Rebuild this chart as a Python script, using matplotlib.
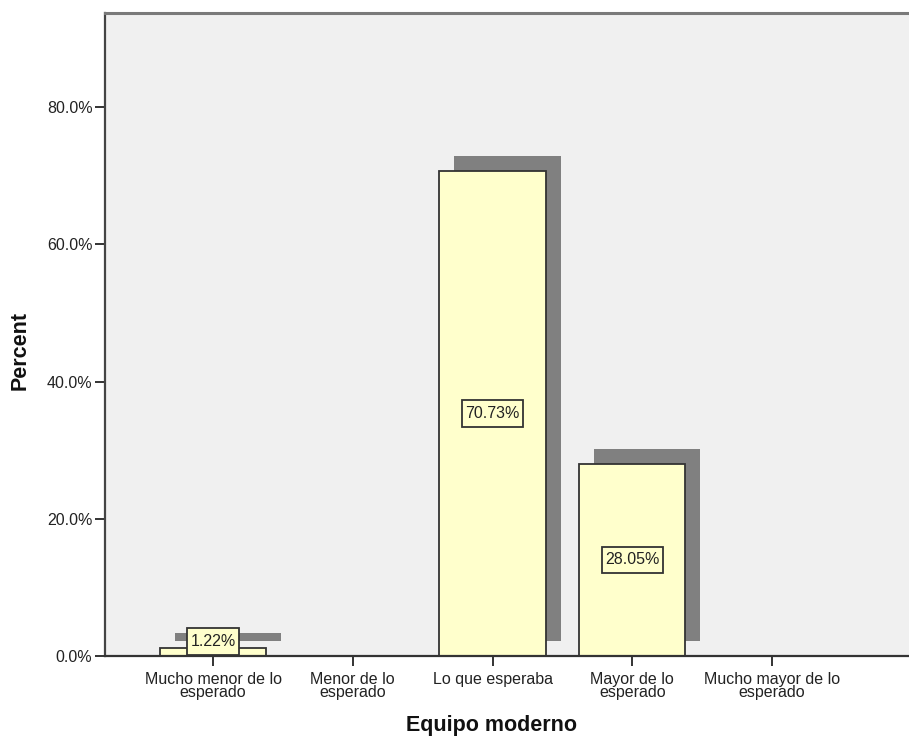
import numpy as np
import matplotlib
matplotlib.use("Agg")
import matplotlib.pyplot as plt
from matplotlib.path import Path
from matplotlib.transforms import ScaledTranslation

plt.rcParams['font.family'] = ['Liberation Sans', 'DejaVu Sans']

categories = ["Mucho menor de lo\nesperado", "Menor de lo\nesperado", "Lo que esperaba",
              "Mayor de lo\nesperado", "Mucho mayor de lo\nesperado"]
percent = [1.22, 0.0, 70.73, 28.05, 0.0]
yticks = [0, 20, 40, 60, 80]

bar_color = '#ffffcc'
shadow_color = '#808080'
edge_color = '#333333'


def tag_box(x0, y0, width, height, mutation_size):
    # plain rectangle, a little taller than the default square pad gives
    px = 0.2 * mutation_size
    py = 0.36 * mutation_size
    x1, y1 = x0 + width + px, y0 + height + py
    x0, y0 = x0 - px, y0 - py
    return Path([(x0, y0), (x1, y0), (x1, y1), (x0, y1), (x0, y0)], closed=True)


fig = plt.figure(figsize=(9.09, 7.42), dpi=100)
W, H = 909, 742
ax = fig.add_axes([105 / W, 1 - 656 / H, 1 - 105 / W, (656 - 13) / H])
ax.set_facecolor('#f0f0f0')

x = np.arange(len(categories))
has_bar = [v > 0 for v in percent]

# drop shadow: same bars shifted up and right by a fixed number of pixels
shadow_tf = ax.transData + ScaledTranslation(15 / 100, 15 / 100, fig.dpi_scale_trans)
ax.bar(x[has_bar], np.array(percent)[has_bar], width=0.76, color=shadow_color,
       edgecolor='none', transform=shadow_tf, zorder=1)
ax.bar(x[has_bar], np.array(percent)[has_bar], width=0.76, color=bar_color,
       edgecolor=edge_color, linewidth=1.3, zorder=2)

for xi, v in zip(x, percent):
    if v <= 0:
        continue
    ax.text(xi, max(v / 2, 2.1), f'{v:.2f}%', ha='center', va='center',
            fontsize=11.5, color='#222222', zorder=4,
            bbox=dict(boxstyle=tag_box, fc=bar_color, ec=edge_color, lw=1.3))

ax.set_xlim(-0.773, 4.98)
ax.set_ylim(0, 93.7)

ax.set_yticks(yticks)
ax.set_yticklabels([f'{t:.1f}%' for t in yticks])
ax.set_xticks(x)
ax.set_xticklabels(categories, linespacing=0.85)

ax.tick_params(axis='both', direction='out', length=7.5, width=1.4,
               color='#333333', labelsize=11.5, labelcolor='#222222')
ax.tick_params(axis='y', pad=1.5)
ax.tick_params(axis='x', pad=4)

ax.spines['right'].set_visible(False)
ax.spines['left'].set_color('#444444')
ax.spines['left'].set_linewidth(1.6)
ax.spines['bottom'].set_color('#333333')
ax.spines['bottom'].set_linewidth(1.6)
ax.spines['top'].set_color('#7a7a7a')
ax.spines['top'].set_linewidth(2.2)

fig.text(20 / W, 1 - 350 / H, 'Percent', rotation=90, ha='center', va='center',
         fontsize=15.5, fontweight='bold', color='#111111')
fig.text(491 / W, 1 - 726 / H, 'Equipo moderno', ha='center', va='center',
         fontsize=15.5, fontweight='bold', color='#111111')

fig.savefig('out.png', dpi=100, facecolor='white')
